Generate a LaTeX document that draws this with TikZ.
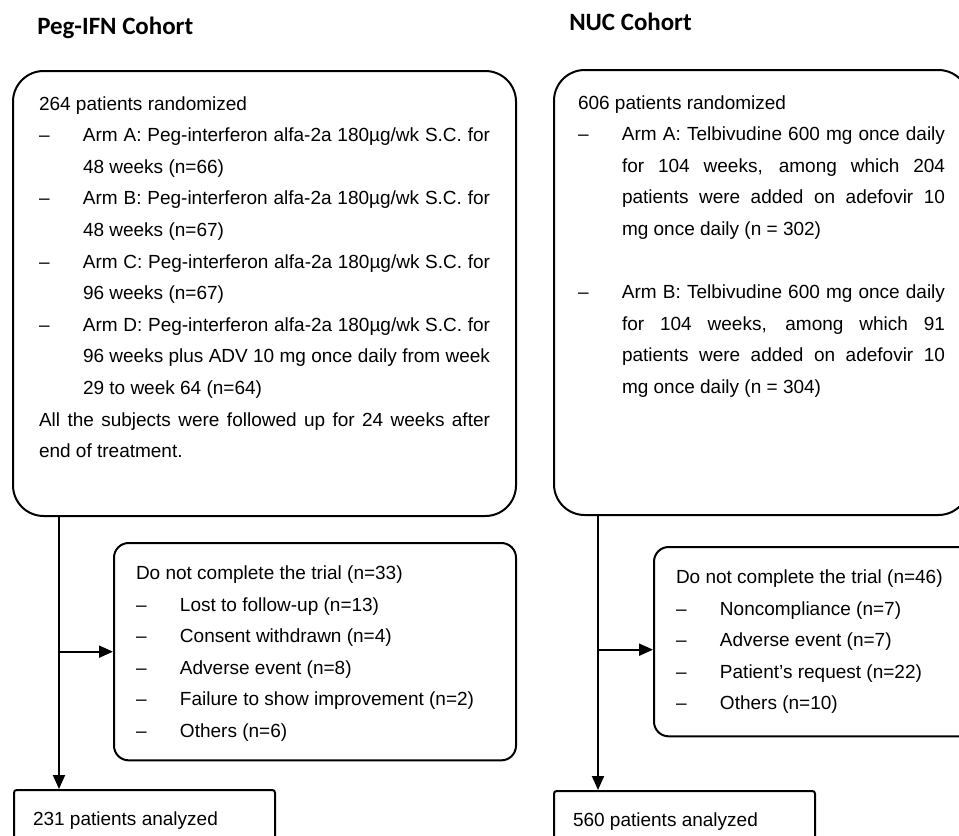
\documentclass[tikz,border=0pt]{standalone}
\usepackage{fontspec}
\setmainfont{Liberation Sans}
\newfontfamily\headfont{Carlito}
\usetikzlibrary{arrows.meta}

% list lines: a dash, then text (stretched when the line is justified)
\newcommand{\armitem}[1]{\makebox[33pt][l]{–}\makebox[\dimexpr\linewidth-33pt\relax][s]{#1}}
\newcommand{\armmid}[1]{\hspace*{33pt}\makebox[\dimexpr\linewidth-33pt\relax][s]{#1}}
\newcommand{\armcont}[1]{\hspace*{33pt}#1}
\newcommand{\dashitem}[1]{\makebox[33pt][l]{–}#1}
\newcommand{\fullline}[1]{\makebox[\linewidth][s]{#1}}
\newcommand{\boxtext}[3]{\parbox[t][#2][t]{#1}{#3}}

\begin{document}
\begin{tikzpicture}[x=0.75pt, y=-0.75pt,
        cohort/.style={draw, line width=1.5pt, rounded corners=23pt, anchor=north west, inner xsep=19pt, inner ysep=19pt},
        dropout/.style={draw, line width=1.5pt, rounded corners=11pt, anchor=north west, inner xsep=16.5pt, inner ysep=17pt},
        result/.style={draw, line width=1.5pt, rounded corners=2pt, anchor=north west, inner xsep=14.25pt, inner ysep=16pt},
        title/.style={anchor=base west, inner sep=0pt, font=\headfont\bfseries\fontsize{18.7pt}{22pt}\selectfont},
        line/.style={draw, line width=1.5pt, -{Triangle[length=10.5pt, width=9pt]}},
        every node/.append style={font=\fontsize{14.25pt}{23.7pt}\selectfont}]
    \useasboundingbox (0,0) rectangle (959,835);
    \clip (0,0) rectangle (959,835);

    % cohort titles
    \node [title] (ltitle) at (37,34) {Peg-IFN Cohort};
    \node [title] (rtitle) at (569,30) {NUC Cohort};

    % randomization
    \node [cohort, inner xsep=19.5pt] (lbig) at (12,70) {\boxtext{338.25pt}{295.75pt}{%
        264 patients randomized\\
        \armitem{Arm A: Peg-interferon alfa-2a 180µg/wk S.C. for}\\
        \armcont{48 weeks (n=66)}\\
        \armitem{Arm B: Peg-interferon alfa-2a 180µg/wk S.C. for}\\
        \armcont{48 weeks (n=67)}\\
        \armitem{Arm C: Peg-interferon alfa-2a 180µg/wk S.C. for}\\
        \armcont{96 weeks (n=67)}\\
        \armitem{Arm D: Peg-interferon alfa-2a 180µg/wk S.C. for}\\
        \armmid{96 weeks plus ADV 10 mg once daily from week}\\
        \armcont{29 to week 64 (n=64)}\\
        \fullline{All the subjects were followed up for 24 weeks after}\\
        end of treatment.}};
    \node [cohort, inner xsep=18pt] (rbig) at (553,69) {\boxtext{275.25pt}{295.75pt}{%
        606 patients randomized\\
        \armitem{Arm A: Telbivudine 600 mg once daily}\\
        \armmid{for 104 weeks, among which 204}\\
        \armmid{patients were added on adefovir 10}\\
        \armcont{mg once daily (n = 302)}\\[23.7pt]
        \armitem{Arm B: Telbivudine 600 mg once daily}\\
        \armmid{for 104 weeks, among which 91}\\
        \armmid{patients were added on adefovir 10}\\
        \armcont{mg once daily (n = 304)}}};

    % withdrawals
    \node [dropout] (ldrop) at (113,542) {\boxtext{268.5pt}{129pt}{%
        Do not complete the trial (n=33)\\
        \dashitem{Lost to follow-up (n=13)}\\
        \dashitem{Consent withdrawn (n=4)}\\
        \dashitem{Adverse event (n=8)}\\
        \dashitem{Failure to show improvement (n=2)}\\
        \dashitem{Others (n=6)}}};
    \node [dropout] (rdrop) at (653,546) {\boxtext{208.5pt}{108pt}{%
        Do not complete the trial (n=46)\\
        \dashitem{Noncompliance (n=7)}\\
        \dashitem{Adverse event (n=7)}\\
        \dashitem{Patient’s request (n=22)}\\
        \dashitem{Others (n=10)}}};

    % analysis
    \node [result] (lres) at (13,789) {\boxtext{167.25pt}{28.75pt}{231 patients analyzed}};
    \node [result] (rres) at (553,790) {\boxtext{167.25pt}{28.75pt}{560 patients analyzed}};

    \coordinate [xshift=35.25pt] (lsplit) at (lbig.south west);
    \coordinate [xshift=33.75pt] (rsplit) at (rbig.south west);

    \path [line] (lsplit) -- (lsplit |- lres.north);
    \path [line] (lsplit |- ldrop.west) -- (ldrop.west);
    \path [line] (rsplit) -- (rsplit |- rres.north);
    \path [line] ([yshift=-6pt]rsplit |- rdrop.west) -- ([yshift=-6pt]rdrop.west);
\end{tikzpicture}
\end{document}
